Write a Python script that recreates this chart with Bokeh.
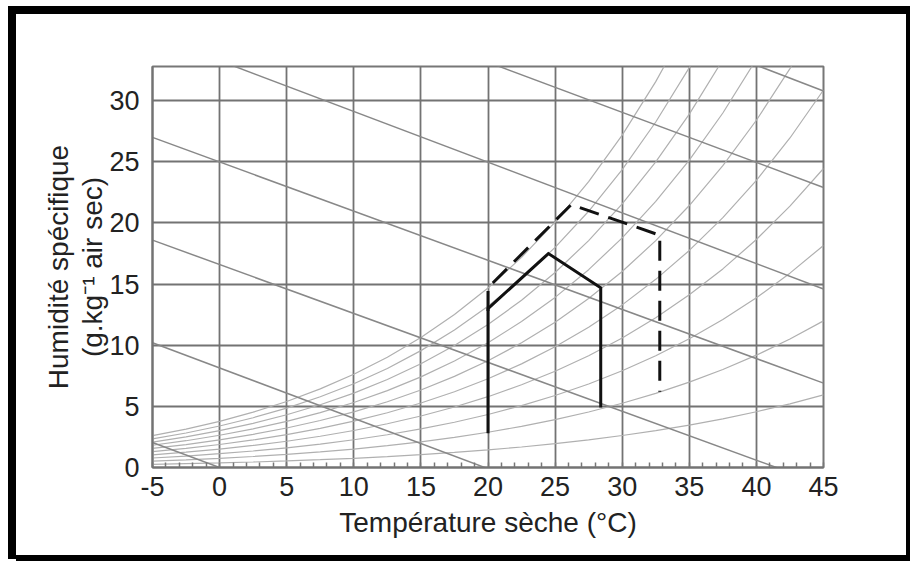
from bokeh.plotting import figure
from bokeh.models import FixedTicker, Range1d
from bokeh.embed import file_html
from bokeh.resources import INLINE

# ---- data ----
x_ticks = [-5, 0, 5, 10, 15, 20, 25, 30, 35, 40, 45]
y_ticks = [0, 5, 10, 15, 20, 25, 30]

# saturation vapour pressure (hPa) at each dry temperature (degC)
sat_temp = [-5, -2.5, 0, 2.5, 5, 7.5, 10, 12.5, 15, 17.5, 20, 22.5, 25,
            27.5, 30, 32.5, 35, 37.5, 40, 42.5, 45]
sat_press = [4.22, 5.08, 6.11, 7.32, 8.72, 10.37, 12.27, 14.48, 17.04, 19.99, 23.37,
             27.25, 31.67, 36.70, 42.43, 48.93, 56.24, 64.47, 73.75, 84.17, 95.84]
atm_press = 1013.25
rel_hum = [0.1, 0.2, 0.3, 0.4, 0.5, 0.6, 0.7, 0.8, 0.9, 1.0]

# straight (enthalpy) lines: humidity at T=-5 and at T=45
enth_x = [-5, 45]
enth_left = [2.05, 10.2, 18.6, 27.0, 35.35, 43.4, 51.8]
enth_right = [-18.45, -10.4, -1.4, 6.9, 14.6, 22.9, 30.8]

# zone contours
solid_x = [20.0, 20.0, 24.5, 28.4, 28.4]
solid_y = [2.8, 13.0, 17.5, 14.7, 4.9]
dash_x = [20.0, 20.0, 26.2, 32.8, 32.8]
dash_y = [12.8, 14.7, 21.5, 19.0, 6.2]

FONT = "Liberation Sans"

p = figure(width=894, height=545, x_range=Range1d(-5, 45), y_range=Range1d(0, 32.8),
           output_backend="svg", toolbar_location=None,
           min_border_left=152, min_border_right=71, min_border_top=66, min_border_bottom=78)
# black frame around the whole picture (page decoration, behind a transparent canvas)
p.styles = {"box-shadow": "inset 8px 6px 0 0 white, inset 16px 14px 0 0 black, "
                          "14px 12px 0 -2px white, 12px 10px 0 4px black, "
                          "16px 16px 0 0 black"}
p.background_fill_color = "white"
p.border_fill_alpha = 0
p.outline_line_color = "#777777"
p.outline_line_width = 2

# grid
p.xgrid.ticker = FixedTicker(ticks=x_ticks)
p.ygrid.ticker = FixedTicker(ticks=y_ticks)
for g in (p.xgrid, p.ygrid):
    g.grid_line_color = "#737373"
    g.grid_line_width = 1.8
    g.grid_line_alpha = 1.0

# axes
p.xaxis.ticker = FixedTicker(ticks=x_ticks, minor_ticks=list(range(-5, 46)))
p.yaxis.ticker = FixedTicker(ticks=y_ticks, minor_ticks=[])
p.xaxis.major_label_overrides = {-5: "-5"}
for ax in (p.xaxis, p.yaxis):
    ax.axis_line_color = "#737373"
    ax.axis_line_width = 2
    ax.major_tick_in = 0
    ax.major_tick_out = 0
    ax.major_label_text_font = FONT
    ax.major_label_text_font_size = "27px"
    ax.major_label_text_color = "#222222"
    ax.axis_label_text_font = FONT
    ax.axis_label_text_font_size = "28px"
    ax.axis_label_text_font_style = "normal"
    ax.axis_label_text_color = "#222222"
p.xaxis.minor_tick_in = 5
p.xaxis.minor_tick_out = 0
p.xaxis.minor_tick_line_color = "#777777"
p.xaxis.minor_tick_line_width = 1.5
p.yaxis.minor_tick_line_color = None
p.xaxis.major_label_standoff = 9
p.yaxis.major_label_standoff = 13

p.xaxis.axis_label = "Température sèche (°C)"
p.xaxis.axis_label_standoff = 8
p.xaxis.axis_label_text_line_height = 1.0
p.yaxis.axis_label = "Humidité spécifique\n(g.kg⁻¹ air sec)"
p.yaxis.axis_label_text_line_height = 1.1
p.yaxis.axis_label_standoff = -2

# relative humidity curves (specific humidity from vapour pressure)
rh_xs = [sat_temp for _ in rel_hum]
rh_ys = [[622 * r * ps / (atm_press - r * ps) for ps in sat_press] for r in rel_hum]
p.multi_line(rh_xs, rh_ys, line_color="#b0b0b0", line_width=1.2)

# enthalpy lines
p.multi_line([enth_x for _ in enth_left],
             [[a, b] for a, b in zip(enth_left, enth_right)],
             line_color="#888888", line_width=1.5)

# contours
p.line(dash_x, dash_y, line_color="#111111", line_width=3, line_dash="20 10", line_join="miter")
p.line(solid_x, solid_y, line_color="#111111", line_width=3, line_join="miter")

open("out.html", "w").write(file_html(p, INLINE))
